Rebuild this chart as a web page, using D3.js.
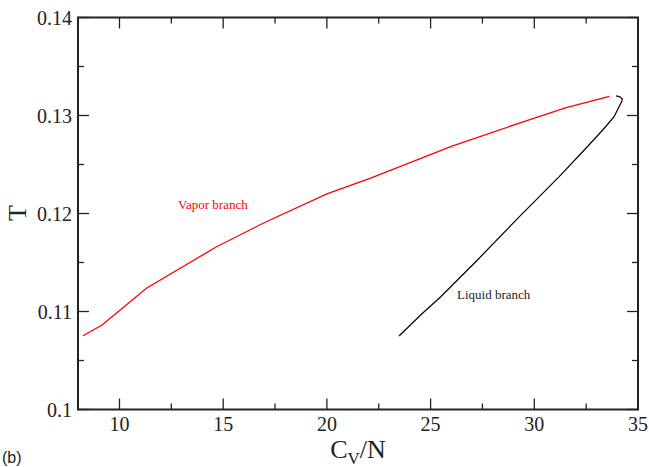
<!DOCTYPE html>
<html lang="en">
<head>
<meta charset="UTF-8">
<title>T vs Cv/N</title>
<script src="https://cdn.jsdelivr.net/npm/d3@7"></script>
<style>
  body { margin: 0; background: #fff; }
  .tick-label { font-family: "Liberation Serif", "Times New Roman", serif; font-size: 20px; fill: #222; }
</style>
</head>
<body>
<div id="chart"></div>
<script>
// vapor branch (red)
const vaporCv = [8.24, 9.16, 11.30, 14.68, 17.0, 20.0, 22.11, 26.0, 29.35, 31.5, 33.62];
const vaporT  = [0.10753, 0.10862, 0.11237, 0.11661, 0.11908, 0.1220, 0.12362, 0.12685, 0.12927, 0.13077, 0.13195];

// liquid branch (black)
const liquidCv = [23.48, 24.52, 25.49, 27.26, 29.2, 31.20, 32.41, 33.30, 33.84, 34.22, 34.24, 34.1, 33.94];
const liquidT  = [0.1075, 0.10964, 0.11151, 0.11526, 0.1195, 0.12376, 0.12648, 0.12852, 0.12985, 0.13145, 0.1317, 0.13193, 0.1320];

const xTicks = [10, 15, 20, 25, 30, 35];
const yTicks = [0.1, 0.11, 0.12, 0.13, 0.14];
const xMinor = [7.5, 12.5, 17.5, 22.5, 27.5, 32.5];
const yMinor = [0.105, 0.115, 0.125, 0.135];

const width = 649, height = 467;
const margin = {left: 78, right: 10, top: 18, bottom: 57};

const svg = d3.select("#chart").append("svg")
    .attr("width", width)
    .attr("height", height);

const x = d3.scaleLinear().domain([8, 35]).range([margin.left, width - margin.right - 1]);
const y = d3.scaleLinear().domain([0.1, 0.14]).range([height - margin.bottom - 0.5, margin.top - 0.5]);

const x0 = x.range()[0], x1 = x.range()[1];
const y0 = y.range()[0], y1 = y.range()[1];

// ticks on all four sides, pointing inward
const tk = svg.append("g").attr("stroke", "#222").attr("stroke-width", 1.3);
function xtick(v, len) {
    tk.append("line").attr("x1", x(v)).attr("x2", x(v)).attr("y1", y0).attr("y2", y0 - len);
    tk.append("line").attr("x1", x(v)).attr("x2", x(v)).attr("y1", y1).attr("y2", y1 + len);
}
function ytick(v, len) {
    tk.append("line").attr("y1", y(v)).attr("y2", y(v)).attr("x1", x0).attr("x2", x0 + len);
    tk.append("line").attr("y1", y(v)).attr("y2", y(v)).attr("x1", x1).attr("x2", x1 - len);
}
xTicks.forEach(v => xtick(v, 11));
xMinor.filter(v => v > 8).forEach(v => xtick(v, 6));
yTicks.forEach(v => ytick(v, 11));
yMinor.forEach(v => ytick(v, 6));

// frame
svg.append("rect")
    .attr("x", x0).attr("y", y1)
    .attr("width", x1 - x0).attr("height", y0 - y1)
    .attr("fill", "none").attr("stroke", "#222").attr("stroke-width", 2);

// tick labels
svg.selectAll(".xl").data(xTicks).enter().append("text")
    .attr("class", "tick-label")
    .attr("x", d => x(d)).attr("y", y0 + 21)
    .attr("text-anchor", "middle")
    .text(d => d);

svg.selectAll(".yl").data(yTicks).enter().append("text")
    .attr("class", "tick-label")
    .attr("x", x0 - 6).attr("y", d => y(d) + 7)
    .attr("text-anchor", "end")
    .text(d => d);

// curves
const line = d3.line().x(d => x(d[0])).y(d => y(d[1])).curve(d3.curveLinear);
svg.append("path")
    .datum(d3.zip(vaporCv, vaporT))
    .attr("d", line)
    .attr("fill", "none").attr("stroke", "#ff0000").attr("stroke-width", 1.3);
svg.append("path")
    .datum(d3.zip(liquidCv, liquidT))
    .attr("d", line)
    .attr("fill", "none").attr("stroke", "#000").attr("stroke-width", 1.2);

// annotations
svg.append("text")
    .attr("x", 178).attr("y", 209)
    .attr("font-family", "Liberation Serif, serif").attr("font-size", 13)
    .attr("fill", "#ff0000")
    .text("Vapor branch");
svg.append("text")
    .attr("x", 457).attr("y", 299)
    .attr("font-family", "Liberation Serif, serif").attr("font-size", 13)
    .attr("fill", "#222")
    .text("Liquid branch");

// axis titles
const xt = svg.append("text")
    .attr("x", 358).attr("y", 458)
    .attr("text-anchor", "middle")
    .attr("font-family", "Liberation Serif, serif").attr("font-size", 26)
    .attr("fill", "#222");
xt.append("tspan").text("C");
xt.append("tspan").attr("font-size", 17).attr("dy", 6).text("V");
xt.append("tspan").attr("dy", -6).text("/N");

svg.append("text")
    .attr("transform", "translate(26,213) rotate(-90)")
    .attr("text-anchor", "middle")
    .attr("font-family", "Liberation Serif, serif").attr("font-size", 26)
    .attr("fill", "#222")
    .text("T");

svg.append("text")
    .attr("x", 2).attr("y", 463)
    .attr("font-family", "Liberation Sans, Arial, sans-serif").attr("font-size", 16)
    .attr("fill", "#222")
    .text("(b)");
</script>
</body>
</html>
